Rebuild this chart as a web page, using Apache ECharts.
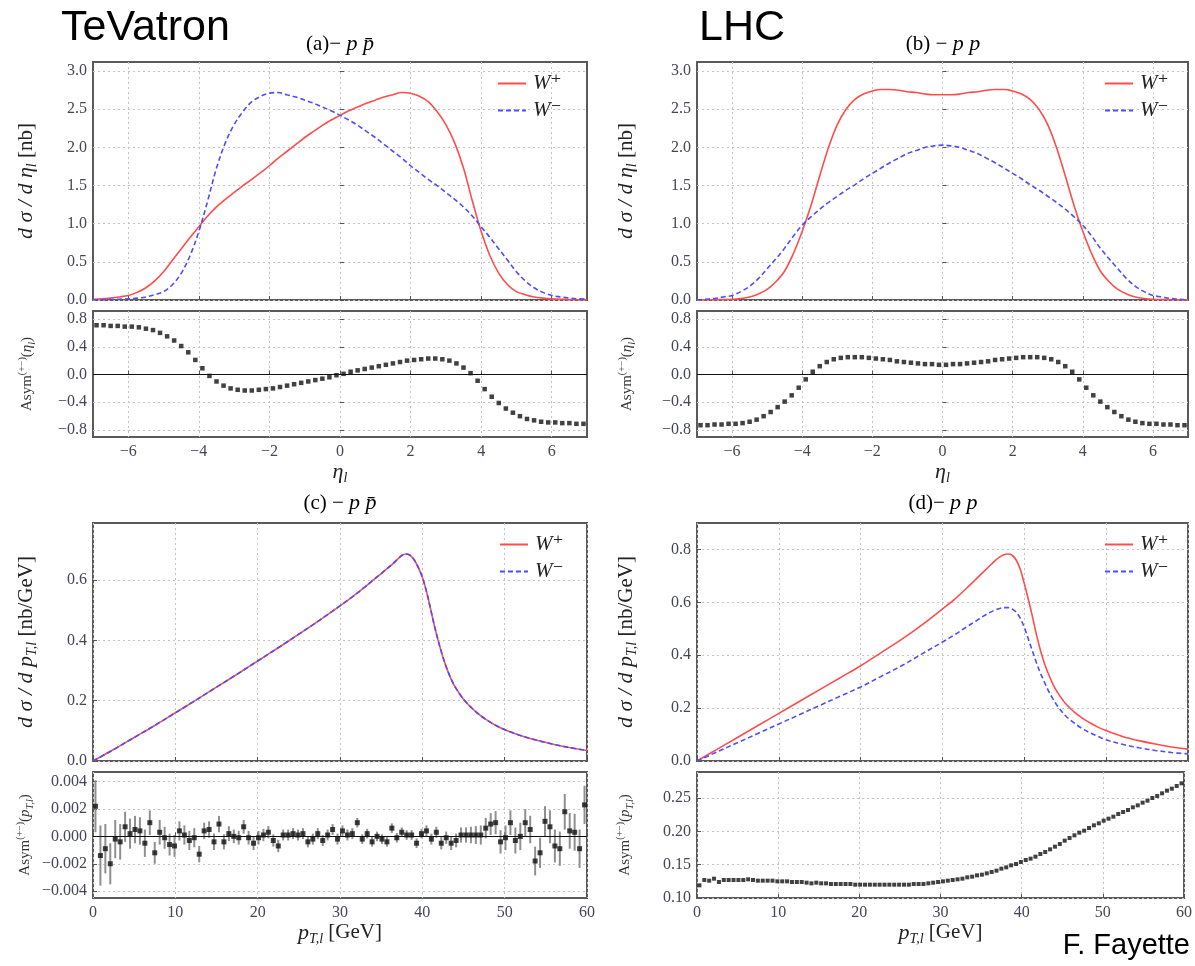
<!DOCTYPE html>
<html><head><meta charset="utf-8">
<script src="https://cdn.jsdelivr.net/npm/echarts@6/dist/echarts.min.js"></script>
<style>html,body{margin:0;padding:0;background:#fff}#c{width:1195px;height:966px}</style>
</head><body><div id="c"></div><script>
// ---------- DATA ----------
const etaGrid = [-7,-6.75,-6.5,-6.25,-6,-5.75,-5.5,-5.25,-5,-4.75,-4.5,-4.25,-4,-3.75,-3.5,-3.25,-3,-2.75,-2.5,-2.25,-2,-1.75,-1.5,-1.25,-1,-0.75,-0.5,-0.25,0,0.25,0.5,0.75,1,1.25,1.5,1.75,2,2.25,2.5,2.75,3,3.25,3.5,3.75,4,4.25,4.5,4.75,5,5.25,5.5,5.75,6,6.25,6.5,6.75,7];
const aWplus = [0.01,0.015,0.025,0.04,0.06,0.10,0.16,0.25,0.37,0.52,0.67,0.82,0.96,1.10,1.22,1.32,1.41,1.50,1.58,1.67,1.76,1.86,1.95,2.04,2.13,2.21,2.29,2.36,2.42,2.48,2.53,2.58,2.62,2.66,2.69,2.72,2.71,2.67,2.60,2.47,2.30,2.06,1.73,1.30,0.90,0.58,0.35,0.20,0.11,0.07,0.04,0.025,0.015,0.01,0.005,0.003,0.0];
const aWminus = [0.0,0.003,0.005,0.01,0.015,0.025,0.04,0.07,0.11,0.20,0.35,0.58,0.90,1.30,1.73,2.06,2.30,2.47,2.60,2.67,2.71,2.72,2.69,2.66,2.62,2.58,2.53,2.48,2.42,2.36,2.29,2.21,2.13,2.04,1.95,1.86,1.76,1.67,1.58,1.50,1.41,1.32,1.22,1.10,0.96,0.82,0.67,0.52,0.37,0.25,0.16,0.10,0.06,0.04,0.025,0.015,0.01];
const bWplus = [0.0,0.002,0.003,0.006,0.01,0.02,0.04,0.08,0.14,0.24,0.38,0.61,0.90,1.24,1.63,2.00,2.30,2.50,2.63,2.70,2.74,2.76,2.76,2.75,2.73,2.72,2.70,2.69,2.69,2.69,2.70,2.72,2.73,2.75,2.76,2.76,2.74,2.70,2.63,2.50,2.30,2.00,1.63,1.24,0.90,0.61,0.38,0.24,0.14,0.08,0.04,0.02,0.01,0.006,0.003,0.002,0.0];
const bWminus = [0.0,0.01,0.02,0.04,0.06,0.11,0.18,0.28,0.41,0.54,0.68,0.84,0.98,1.09,1.19,1.28,1.36,1.44,1.51,1.59,1.66,1.73,1.80,1.86,1.92,1.96,2.00,2.02,2.03,2.02,2.00,1.96,1.92,1.86,1.80,1.73,1.66,1.59,1.51,1.44,1.36,1.28,1.19,1.09,0.98,0.84,0.68,0.54,0.41,0.28,0.18,0.11,0.06,0.04,0.02,0.01,0.0];

const asymEta = [-6.9,-6.7,-6.5,-6.3,-6.1,-5.9,-5.7,-5.5,-5.3,-5.1,-4.9,-4.7,-4.5,-4.3,-4.1,-3.9,-3.7,-3.5,-3.3,-3.1,-2.9,-2.7,-2.5,-2.3,-2.1,-1.9,-1.7,-1.5,-1.3,-1.1,-0.9,-0.7,-0.5,-0.3,-0.1,0.1,0.3,0.5,0.7,0.9,1.1,1.3,1.5,1.7,1.9,2.1,2.3,2.5,2.7,2.9,3.1,3.3,3.5,3.7,3.9,4.1,4.3,4.5,4.7,4.9,5.1,5.3,5.5,5.7,5.9,6.1,6.3,6.5,6.7,6.9];
const aAsym = [0.71,0.71,0.70,0.70,0.69,0.69,0.68,0.66,0.64,0.60,0.55,0.49,0.41,0.32,0.21,0.09,-0.02,-0.10,-0.16,-0.20,-0.22,-0.23,-0.23,-0.22,-0.21,-0.20,-0.18,-0.16,-0.14,-0.12,-0.10,-0.08,-0.06,-0.04,-0.01,0.01,0.04,0.06,0.08,0.10,0.12,0.14,0.16,0.18,0.20,0.21,0.22,0.23,0.23,0.22,0.20,0.16,0.10,0.02,-0.09,-0.21,-0.32,-0.41,-0.49,-0.55,-0.60,-0.64,-0.66,-0.68,-0.69,-0.69,-0.70,-0.70,-0.71,-0.71];
const bAsym = [-0.73,-0.73,-0.72,-0.72,-0.71,-0.71,-0.70,-0.68,-0.65,-0.60,-0.54,-0.47,-0.39,-0.30,-0.19,-0.07,0.04,0.12,0.18,0.22,0.24,0.25,0.25,0.25,0.24,0.23,0.22,0.21,0.19,0.18,0.17,0.16,0.15,0.15,0.14,0.14,0.15,0.15,0.16,0.17,0.18,0.19,0.21,0.22,0.23,0.24,0.25,0.25,0.25,0.24,0.22,0.18,0.12,0.04,-0.07,-0.19,-0.30,-0.39,-0.47,-0.54,-0.60,-0.65,-0.68,-0.70,-0.71,-0.71,-0.72,-0.72,-0.73,-0.73];

const ptGrid = [0,2.5,5,7.5,10,12.5,15,17.5,20,22.5,25,27.5,30,31.5,33,34,35,36,36.5,37,37.5,38,38.5,39,39.5,40,40.5,41,41.5,42,42.5,43,43.5,44,45,46,47,48,49,50,52,54,56,58,60];
const cWplus = [0.0,0.038,0.078,0.118,0.160,0.202,0.245,0.288,0.332,0.376,0.421,0.467,0.515,0.545,0.577,0.600,0.622,0.645,0.657,0.670,0.682,0.687,0.683,0.668,0.643,0.610,0.563,0.505,0.445,0.392,0.345,0.305,0.272,0.245,0.205,0.176,0.152,0.133,0.117,0.104,0.084,0.068,0.055,0.044,0.035];
const cWminus = [0.0,0.038,0.078,0.118,0.160,0.202,0.245,0.288,0.332,0.376,0.421,0.467,0.515,0.545,0.577,0.600,0.622,0.645,0.657,0.670,0.682,0.687,0.683,0.668,0.643,0.610,0.563,0.505,0.445,0.392,0.345,0.305,0.272,0.245,0.205,0.176,0.152,0.133,0.117,0.104,0.084,0.068,0.055,0.044,0.035];
const dWplus = [0.0,0.045,0.09,0.135,0.18,0.225,0.27,0.315,0.36,0.41,0.46,0.515,0.575,0.612,0.655,0.685,0.715,0.745,0.76,0.772,0.780,0.783,0.778,0.760,0.725,0.670,0.610,0.545,0.475,0.415,0.365,0.325,0.290,0.262,0.218,0.188,0.164,0.145,0.128,0.115,0.093,0.077,0.064,0.053,0.045];
const dWminus = [0.0,0.035,0.07,0.105,0.14,0.175,0.21,0.245,0.28,0.32,0.36,0.405,0.45,0.478,0.508,0.528,0.548,0.565,0.572,0.577,0.580,0.580,0.575,0.563,0.540,0.505,0.460,0.415,0.370,0.330,0.295,0.262,0.235,0.210,0.172,0.146,0.124,0.107,0.093,0.080,0.063,0.050,0.040,0.032,0.027];

const asymPt = [0.3,0.9,1.5,2.1,2.7,3.3,3.9,4.5,5.1,5.7,6.3,6.9,7.5,8.1,8.7,9.3,9.9,10.5,11.1,11.7,12.3,12.9,13.5,14.1,14.7,15.3,15.9,16.5,17.1,17.7,18.3,18.9,19.5,20.1,20.7,21.3,21.9,22.5,23.1,23.7,24.3,24.9,25.5,26.1,26.7,27.3,27.9,28.5,29.1,29.7,30.3,30.9,31.5,32.1,32.7,33.3,33.9,34.5,35.1,35.7,36.3,36.9,37.5,38.1,38.7,39.3,39.9,40.5,41.1,41.7,42.3,42.9,43.5,44.1,44.7,45.3,45.9,46.5,47.1,47.7,48.3,48.9,49.5,50.1,50.7,51.3,51.9,52.5,53.1,53.7,54.3,54.9,55.5,56.1,56.7,57.3,57.9,58.5,59.1,59.7];
const cAsym = [0.0022,-0.0014,-0.0009,-0.0020,-0.0002,-0.0004,0.0007,0.0002,0.0005,0.0004,-0.0005,0.0010,-0.0012,0.0003,-0.0001,-0.0006,-0.0007,0.0004,0.0001,-0.0003,-0.0001,-0.0013,0.0004,0.0005,-0.0004,0.0009,-0.0004,0.0002,0.0000,-0.0001,0.0007,-0.0001,-0.0005,-0.0001,0.0001,0.0003,-0.0003,-0.0007,0.0001,0.0001,0.0002,0.0001,0.0002,-0.0004,-0.0002,0.0002,-0.0003,0.0001,0.0005,-0.0002,0.0004,0.0001,0.0002,0.0010,-0.0002,0.0002,-0.0004,0.0000,-0.0002,-0.0004,0.0006,-0.0001,0.0003,0.0001,0.0001,-0.0005,0.0002,0.0004,-0.0002,0.0003,-0.0005,-0.0001,-0.0005,-0.0003,0.0001,0.0001,0.0001,0.0001,0.0001,0.0006,0.0009,0.0010,-0.0004,-0.0001,0.0010,-0.0003,0.0000,0.0010,0.0005,-0.0018,-0.0012,0.0011,0.0007,-0.0007,-0.0009,0.0018,0.0004,0.0003,-0.0009,0.0023];
const cAsymErr = [0.0019,0.0022,0.0018,0.0015,0.0014,0.0013,0.0011,0.0011,0.0010,0.0010,0.0010,0.0009,0.0008,0.0009,0.0008,0.0008,0.0008,0.0007,0.0007,0.0007,0.0007,0.0006,0.0006,0.0006,0.0006,0.0006,0.00055,0.00055,0.0005,0.0005,0.0005,0.0005,0.0005,0.0005,0.00045,0.00045,0.00045,0.00045,0.0004,0.0004,0.0004,0.0004,0.0004,0.0004,0.0004,0.0004,0.0004,0.0004,0.0004,0.0004,0.0004,0.0004,0.0004,0.00035,0.00035,0.00035,0.00035,0.00035,0.00035,0.00035,0.00035,0.00035,0.00035,0.00035,0.00035,0.00035,0.00035,0.0004,0.0004,0.0004,0.00045,0.00045,0.0005,0.0005,0.00055,0.00055,0.0006,0.00065,0.0007,0.00075,0.0008,0.00085,0.00085,0.0009,0.0009,0.00095,0.0010,0.0010,0.0010,0.00105,0.0011,0.0011,0.0012,0.0012,0.00125,0.0013,0.0013,0.00135,0.0014,0.0014];
const dAsym = [0.119,0.127,0.126,0.129,0.124,0.127,0.127,0.127,0.127,0.127,0.128,0.127,0.126,0.126,0.126,0.126,0.125,0.125,0.125,0.124,0.124,0.124,0.123,0.122,0.123,0.122,0.122,0.121,0.121,0.121,0.121,0.121,0.120,0.120,0.120,0.120,0.120,0.120,0.120,0.120,0.120,0.120,0.120,0.120,0.121,0.121,0.121,0.122,0.123,0.124,0.125,0.126,0.127,0.128,0.129,0.131,0.132,0.134,0.135,0.137,0.139,0.141,0.144,0.146,0.149,0.151,0.154,0.157,0.159,0.162,0.166,0.169,0.173,0.177,0.181,0.186,0.190,0.194,0.198,0.201,0.205,0.209,0.212,0.216,0.219,0.222,0.226,0.229,0.232,0.236,0.239,0.243,0.246,0.250,0.253,0.257,0.261,0.264,0.268,0.272];

const etaTicks = [-6,-4,-2,0,2,4,6];
const ptTicks = [0,10,20,30,40,50,60];
const mainEtaYTicks = [0,0.5,1,1.5,2,2.5,3];
const asymEtaYTicks = [-0.8,-0.4,0,0.4,0.8];
const mainPtCYTicks = [0,0.2,0.4,0.6];
const asymPtCYTicks = [-0.004,-0.002,0,0.002,0.004];
const mainPtDYTicks = [0,0.2,0.4,0.6,0.8];
const asymPtDYTicks = [0.10,0.15,0.20,0.25];

// ---------- CHART ----------
const serif = "'Liberation Serif','DejaVu Serif',serif";
const sans = "'Liberation Sans','Arial',sans-serif";
const labelColor = '#454558';
const RED = '#ff4d4d', BLUE = '#4d4dff';
const pairs = (xs, ys) => xs.map((x, i) => [x, ys[i]]);
const fmt = d => v => (Math.abs(v) < 1e-12 ? 0 : v).toFixed(d).replace('-', '\u2212');

const gridPos = [
  {left: 93, top: 62, width: 494, height: 238},
  {left: 93, top: 311, width: 494, height: 126},
  {left: 697, top: 62, width: 491, height: 238},
  {left: 697, top: 311, width: 491, height: 126},
  {left: 93, top: 523, width: 494, height: 238},
  {left: 93, top: 772, width: 494, height: 126},
  {left: 697, top: 523, width: 491, height: 238},
  {left: 697, top: 772, width: 491, height: 126}
];
const grid = gridPos.map(g => Object.assign({show: true, borderColor: '#5a5a5a', borderWidth: 2, backgroundColor: 'rgba(0,0,0,0)'}, g));

const richName = {
  i: {fontFamily: serif, fontStyle: 'italic', fontSize: 22, lineHeight: 26, color: '#222'},
  n: {fontFamily: serif, fontSize: 21, lineHeight: 26, color: '#222'},
  s: {fontFamily: serif, fontStyle: 'italic', fontSize: 14, lineHeight: 14, verticalAlign: 'bottom', color: '#222'}
};
const richSmall = {
  i: {fontFamily: serif, fontStyle: 'italic', fontSize: 15, lineHeight: 20, color: '#333'},
  n: {fontFamily: serif, fontSize: 15, lineHeight: 20, color: '#333'},
  s: {fontFamily: serif, fontStyle: 'italic', fontSize: 10, lineHeight: 10, verticalAlign: 'bottom', color: '#333'},
  u: {fontFamily: serif, fontSize: 10, lineHeight: 10, verticalAlign: 'top', color: '#333'}
};

function xAxis(gi, min, max, ticks, showLabels, name) {
  return {
    type: 'value', gridIndex: gi, min: min, max: max, interval: ticks[1] - ticks[0],
    axisLine: {show: false},
    axisTick: {show: true, inside: true, length: 4, customValues: ticks, lineStyle: {color: '#555'}},
    axisLabel: {show: showLabels, customValues: ticks, color: labelColor, fontFamily: serif, fontSize: 16, margin: 7, formatter: fmt(0)},
    splitLine: {show: true, lineStyle: {color: '#c4c4c4', type: [2, 3], width: 1}},
    name: name || '', nameLocation: 'middle', nameGap: 17,
    nameTextStyle: {rich: richName}
  };
}
function yAxis(gi, min, max, ticks, dec, name, gap, small) {
  return {
    type: 'value', gridIndex: gi, min: min, max: max, interval: ticks[1] - ticks[0],
    axisLine: {show: false},
    axisTick: {show: true, inside: true, length: 4, customValues: ticks, lineStyle: {color: '#555'}},
    axisLabel: {customValues: ticks, color: labelColor, fontFamily: serif, fontSize: 16, margin: 6, formatter: fmt(dec)},
    splitLine: {show: true, lineStyle: {color: '#c4c4c4', type: [2, 3], width: 1}},
    name: name, nameLocation: 'middle', nameGap: gap, nameRotate: 90,
    nameTextStyle: {rich: small ? richSmall : richName}
  };
}

const yMainEta = '{i|d σ / d η}{s|l}{n| [nb]}';
const yMainPt = '{i|d σ / d p}{s|T,l}{n| [nb/GeV]}';
const yAsymEta = '{n|Asym}{u|(+−)}{n|(}{i|η}{s|l}{n|)}';
const yAsymPt = '{n|Asym}{u|(+−)}{n|(}{i|p}{s|T,l}{n|)}';
const xEta = '{i|η}{s|l}';
const xPt = '{i|p}{s|T,l}{n| [GeV]}';

const xAxes = [
  xAxis(0, -7, 7, etaTicks, false),
  xAxis(1, -7, 7, etaTicks, true, xEta),
  xAxis(2, -7, 7, etaTicks, false),
  xAxis(3, -7, 7, etaTicks, true, xEta),
  xAxis(4, 0, 60, ptTicks, false),
  xAxis(5, 0, 60, ptTicks, true, xPt),
  xAxis(6, 0, 60, ptTicks, false),
  xAxis(7, 0, 60, ptTicks, true, xPt)
];
const yAxes = [
  yAxis(0, 0, 3.12, mainEtaYTicks, 1, yMainEta, 54),
  yAxis(1, -0.9, 0.915, asymEtaYTicks, 1, yAsymEta, 56, true),
  yAxis(2, 0, 3.12, mainEtaYTicks, 1, yMainEta, 58),
  yAxis(3, -0.9, 0.915, asymEtaYTicks, 1, yAsymEta, 60, true),
  yAxis(4, 0, 0.79, mainPtCYTicks, 1, yMainPt, 54),
  yAxis(5, -0.0045, 0.0047, asymPtCYTicks, 3, yAsymPt, 58, true),
  yAxis(6, 0, 0.9, mainPtDYTicks, 1, yMainPt, 58),
  yAxis(7, 0.10, 0.289, asymPtDYTicks, 2, yAsymPt, 62, true)
];

function lineS(name, gi, xs, ys, color, dashed) {
  return {
    type: 'line', name: name, xAxisIndex: gi, yAxisIndex: gi, data: pairs(xs, ys),
    symbol: 'none', smooth: 0.35, clip: true, z: dashed ? 4 : 3,
    lineStyle: {color: color, width: 1.6, type: dashed ? [5, 3] : 'solid'},
    itemStyle: {color: color}
  };
}
const zeroLine = {silent: true, symbol: 'none', label: {show: false}, animation: false,
  lineStyle: {color: '#111', type: 'solid', width: 1.2}, data: [{yAxis: 0}]};
function dots(gi, xs, ys, withZero, size) {
  return {
    type: 'scatter', xAxisIndex: gi, yAxisIndex: gi, data: pairs(xs, ys),
    symbol: 'rect', symbolSize: size || 4, itemStyle: {color: '#111'}, z: 5,
    markLine: withZero ? zeroLine : undefined
  };
}
const errData = asymPt.map((x, i) => [x, cAsym[i], cAsymErr[i]]);

const series = [
  lineS('W⁺', 0, etaGrid, aWplus, RED, false),
  lineS('W⁻', 0, etaGrid, aWminus, BLUE, true),
  dots(1, asymEta, aAsym, true, 4.5),
  lineS('W⁺', 2, etaGrid, bWplus, RED, false),
  lineS('W⁻', 2, etaGrid, bWminus, BLUE, true),
  dots(3, asymEta, bAsym, true, 4.5),
  lineS('W⁺', 4, ptGrid, cWplus, RED, false),
  lineS('W⁻', 4, ptGrid, cWminus, BLUE, true),
  {
    type: 'custom', xAxisIndex: 5, yAxisIndex: 5, data: errData, z: 4, clip: true,
    renderItem: function (params, api) {
      const x = api.value(0), y = api.value(1), e = api.value(2);
      const p1 = api.coord([x, y + e]), p2 = api.coord([x, y - e]);
      return {type: 'line', shape: {x1: p1[0], y1: p1[1], x2: p2[0], y2: p2[1]},
        style: {stroke: '#8f8f8f', lineWidth: 2}};
    }
  },
  dots(5, asymPt, cAsym, true, 5),
  lineS('W⁺', 6, ptGrid, dWplus, RED, false),
  lineS('W⁻', 6, ptGrid, dWminus, BLUE, true),
  dots(7, asymPt, dAsym, false, 4)
];

function legend(left, top) {
  return {
    left: left, top: top, orient: 'vertical', itemGap: 6, itemWidth: 28, itemHeight: 14,
    selectedMode: false, data: ['W⁺', 'W⁻'],
    itemStyle: {opacity: 0, borderWidth: 0},
    textStyle: {fontFamily: serif, fontStyle: 'italic', fontSize: 21, color: '#222', padding: [0, 0, 0, 2]}
  };
}

function txt(x, y, text, rich, align, font) {
  return {type: 'text', x: x, y: y, silent: true, z: 100,
    style: {text: text, rich: rich, font: font, fill: '#000',
      textAlign: align, align: align, textVerticalAlign: 'middle', verticalAlign: 'middle'}};
}
const titleRich = {
  n: {fontFamily: serif, fontSize: 21, color: '#222'},
  i: {fontFamily: serif, fontStyle: 'italic', fontSize: 22, color: '#222'}
};

const option = {
  animation: false,
  backgroundColor: '#fff',
  grid: grid,
  xAxis: xAxes,
  yAxis: yAxes,
  legend: [legend(492, 68), legend(1099, 68), legend(494, 529), legend(1099, 529)],
  series: series,
  graphic: [
    txt(61, 28, 'TeVatron', null, 'left', "43px " + sans),
    txt(699, 28, 'LHC', null, 'left', "43px " + sans),
    txt(1190, 946, 'F. Fayette', null, 'right', "29px " + sans),
    txt(340, 44, '{n|(a)− }{i|p p̄}', titleRich, 'center'),
    txt(943, 44, '{n|(b) − }{i|p p}', titleRich, 'center'),
    txt(340, 503, '{n|(c) − }{i|p p̄}', titleRich, 'center'),
    txt(943, 503, '{n|(d)− }{i|p p}', titleRich, 'center')
  ]
};
const chart = echarts.init(document.getElementById('c'));
chart.setOption(option);
</script></body></html>
